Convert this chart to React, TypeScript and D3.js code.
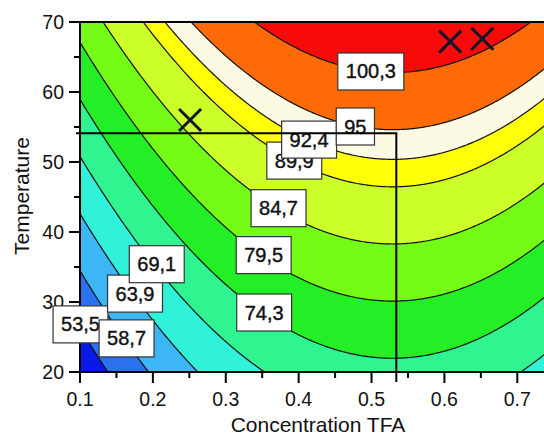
import React, { useEffect, useMemo } from "react";
import * as d3 from "d3";

// ---- Data ----
const levels = [53.5, 58.7, 63.9, 69.1, 74.3, 79.5, 84.7, 89.9, 92.4, 95.1, 100.3];
const labelTexts = ["53,5", "58,7", "63,9", "69,1", "74,3", "79,5", "84,7", "89,9", "92,4", "95", "100,3"];
const labelX = [0.1007, 0.1639, 0.1755, 0.2053, 0.3527, 0.352, 0.3724, 0.394, 0.4143, 0.4778, 0.499];
const labelT = [26.8, 24.8, 31.2, 35.4, 28.5, 36.7, 43.4, 50.2, 53.2, 55.07, 62.93];
// fill colour below the first level, then one per level
const bandColors = [
  "#0a1ae6", "#2a72f0", "#3cb6f4", "#30f2d8", "#30f490", "#24ee26",
  "#74fc16", "#ccff2a", "#ffff0a", "#fdfae4", "#ff6a08", "#f80a0a",
];
const xTicks = [0.1, 0.2, 0.3, 0.4, 0.5, 0.6, 0.7];
const xMinorTicks = [0.15, 0.25, 0.35, 0.45, 0.55, 0.65, 0.75];
const yTicks = [20, 30, 40, 50, 60, 70];
const yMinorTicks = [25, 35, 45, 55, 65];
const markerX = [0.251, 0.608, 0.652];
const markerT = [56.0, 67.2, 67.6];
const optX = 0.534;
const optT = 54.1;

// fitted response surface (quadratic in concentration, linear in temperature)
const peakValue = 104.9; // at T = 70
const peakX = 0.529;
const curvatureX = 128;
const slopeT = 0.637;
const refT = 70;
const response = (c: number, t: number) =>
  peakValue - curvatureX * (c - peakX) ** 2 + slopeT * (t - refT);

const W = 544;
const H = 437;
const FONT = "'Liberation Sans', Arial, Helvetica, sans-serif";

export default function App() {
  useEffect(() => {
    document.body.style.margin = "0";
  }, []);

  const x = d3.scaleLinear().domain([0.1, 0.7]).range([80, 517.3]);
  const y = d3.scaleLinear().domain([20, 70]).range([372, 22]);
  const plotLeft = x(0.1);
  const plotRight = W + 2;
  const plotTop = y(70);
  const plotBottom = y(20);

  const { paths } = useMemo(() => {
    const nx = 380;
    const ny = 300;
    const xmin = x.invert(plotLeft - 10);
    const xmax = x.invert(plotRight + 10);
    const tmin = y.invert(plotBottom + 10);
    const tmax = y.invert(plotTop - 10);
    const sx = (xmax - xmin) / nx;
    const sy = (tmax - tmin) / ny;
    const values = new Array(nx * ny);
    for (let j = 0; j < ny; j++) {
      for (let i = 0; i < nx; i++) {
        values[j * nx + i] = response(xmin + (i + 0.5) * sx, tmin + (j + 0.5) * sy);
      }
    }
    const contours = d3.contours().size([nx, ny]).thresholds(levels)(values);
    const proj = d3.geoTransform({
      point(px: number, py: number) {
        (this as any).stream.point(x(xmin + px * sx), y(tmin + py * sy));
      },
    });
    const gp = d3.geoPath(proj);
    return { paths: contours.map((c) => gp(c as any) || "") };
  }, []);

  const labelFont = 20;
  const labelW = (s: string) => {
    let w = 0;
    for (const ch of s) w += ch === "," || ch === "." ? 0.278 : 0.556;
    return w * labelFont + 16;
  };

  return (
    <svg
      width={W}
      height={H}
      style={{ position: "absolute", left: 0, top: 0, background: "#fff" }}
      fontFamily={FONT}
    >
      <defs>
        <clipPath id="plotClip">
          <rect x={plotLeft} y={plotTop} width={plotRight - plotLeft} height={plotBottom - plotTop} />
        </clipPath>
      </defs>

      <g clipPath="url(#plotClip)">
        <rect x={plotLeft} y={plotTop} width={plotRight - plotLeft} height={plotBottom - plotTop} fill={bandColors[0]} />
        {paths.map((d, i) => (
          <path key={"f" + i} d={d} fill={bandColors[i + 1]} stroke="none" />
        ))}
        {paths.map((d, i) => (
          <path key={"l" + i} d={d} fill="none" stroke="#111" strokeWidth={1.2} />
        ))}
      </g>

      {/* frame / axes */}
      <line x1={plotLeft} x2={plotRight} y1={plotTop} y2={plotTop} stroke="#000" strokeWidth={2} />
      <line x1={plotLeft} x2={plotLeft} y1={plotTop - 1} y2={plotBottom + 1} stroke="#000" strokeWidth={2} />
      <line x1={plotLeft - 1} x2={plotRight} y1={plotBottom} y2={plotBottom} stroke="#000" strokeWidth={2} />

      {xTicks.map((t) => (
        <g key={"xt" + t}>
          <line x1={x(t)} x2={x(t)} y1={plotBottom} y2={plotBottom + 11} stroke="#000" strokeWidth={2} />
          <text x={x(t)} y={plotBottom + 34} textAnchor="middle" fontSize={19.5} fill="#111">
            {t.toFixed(1)}
          </text>
        </g>
      ))}
      {xMinorTicks.map((t) => (
        <line key={"xm" + t} x1={x(t)} x2={x(t)} y1={plotBottom} y2={plotBottom + 6} stroke="#000" strokeWidth={2} />
      ))}
      {yTicks.map((t) => (
        <g key={"yt" + t}>
          <line x1={plotLeft - 11} x2={plotLeft} y1={y(t)} y2={y(t)} stroke="#000" strokeWidth={2} />
          <text x={plotLeft - 16} y={y(t) + 7} textAnchor="end" fontSize={19.5} fill="#111">
            {t}
          </text>
        </g>
      ))}
      {yMinorTicks.map((t) => (
        <line key={"ym" + t} x1={plotLeft - 6} x2={plotLeft} y1={y(t)} y2={y(t)} stroke="#000" strokeWidth={2} />
      ))}

      <text x={318} y={432} textAnchor="middle" fontSize={21} fill="#111">
        Concentration TFA
      </text>
      <text
        transform={`translate(29, 196) rotate(-90)`}
        textAnchor="middle"
        fontSize={21}
        fill="#111"
      >
        Temperature
      </text>

      {/* contour labels */}
      {labelTexts.map((s, i) => {
        const cx = x(labelX[i]);
        const cy = y(labelT[i]);
        const w = labelW(s);
        const h = 37;
        return (
          <g key={"lab" + i}>
            <rect x={cx - w / 2} y={cy - h / 2} width={w} height={h} fill="#fff" stroke="#333" strokeWidth={1.2} />
            <text
              x={cx}
              y={cy + 7}
              textAnchor="middle"
              fontSize={labelFont}
              fill="#111"
              stroke="#111"
              strokeWidth={0.4}
            >
              {s}
            </text>
          </g>
        );
      })}

      {/* optimum guide lines */}
      <line x1={plotLeft - 4} x2={x(optX) + 1} y1={y(optT)} y2={y(optT)} stroke="#000" strokeWidth={2} />
      <line x1={x(optX)} x2={x(optX)} y1={y(optT)} y2={plotBottom + 10} stroke="#000" strokeWidth={2} />

      {/* experimental markers */}
      {markerX.map((mx, i) => {
        const cx = x(mx);
        const cy = y(markerT[i]);
        const r = 11;
        return (
          <g key={"m" + i} stroke="#141428" strokeWidth={3}>
            <line x1={cx - r} y1={cy - r} x2={cx + r} y2={cy + r} />
            <line x1={cx - r} y1={cy + r} x2={cx + r} y2={cy - r} />
          </g>
        );
      })}
    </svg>
  );
}
